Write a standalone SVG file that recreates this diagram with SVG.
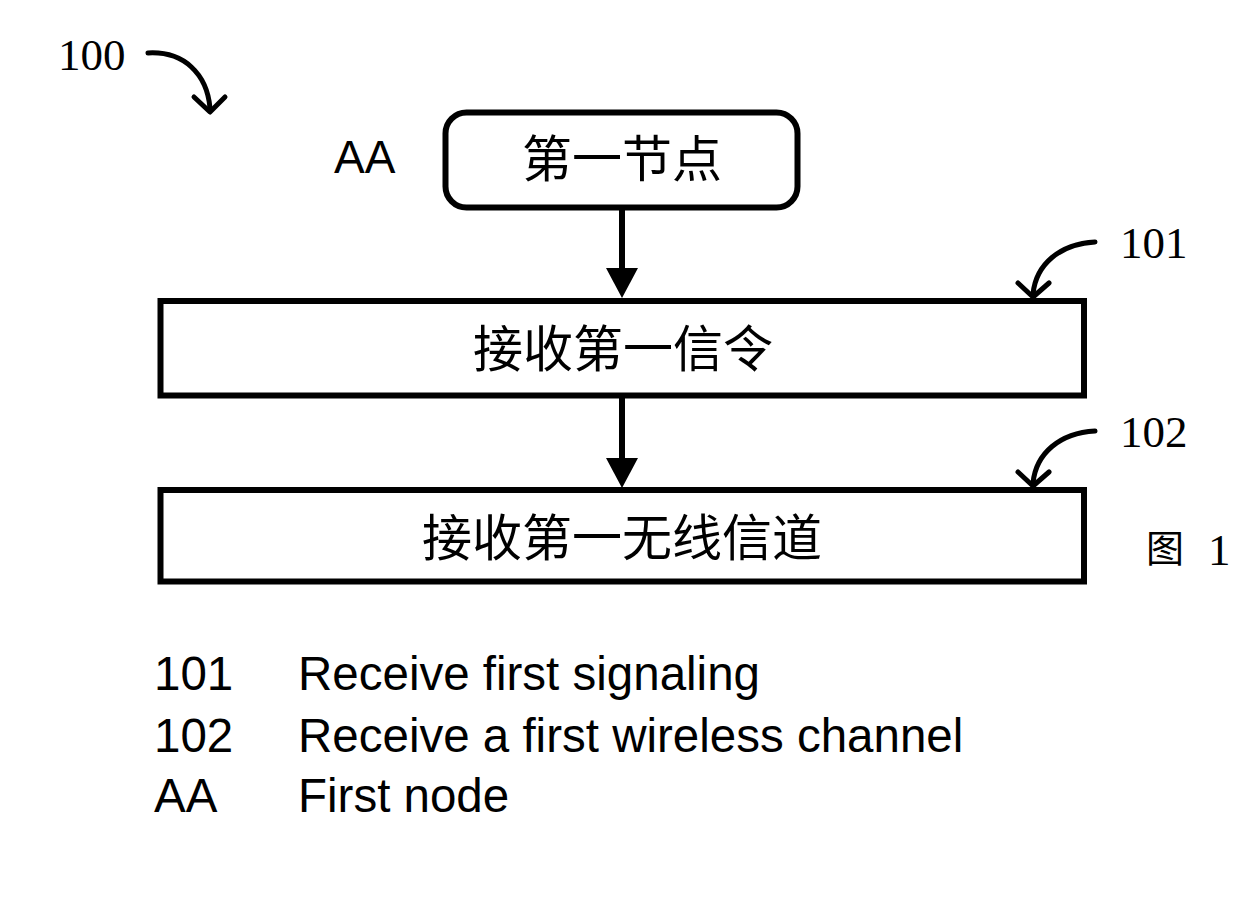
<svg xmlns="http://www.w3.org/2000/svg" width="1257" height="918" viewBox="0 0 1257 918">
<style>
.box{fill:#fff;stroke:#000;stroke-width:6}
.cjk{font-family:"Noto Sans CJK SC",sans-serif;font-size:50px;fill:#000;text-anchor:middle}
.ref{font-family:"Liberation Serif",serif;font-size:45px;fill:#000}
.sans{font-family:"Liberation Sans",Arial,sans-serif;fill:#000}
.leg{font-size:47.5px}
.wire{fill:none;stroke:#000;stroke-width:6}
.call{fill:none;stroke:#000;stroke-width:5;stroke-linecap:round;stroke-linejoin:round}
</style>
<rect width="1257" height="918" fill="#fff"/>
<g id="label-100">
<text class="ref" x="58" y="70" font-size="47">100</text>
<path class="call" d="M148,53 C184,51 207,74 210,108"/>
<path class="call" d="M194,97 L210,112 L225,97"/>
</g>
<g id="node-AA">
<text class="sans" x="334" y="173" font-size="46">AA</text>
<rect class="box" x="445.5" y="112.5" width="352" height="95" rx="21" stroke-width="5"/>
<text class="cjk" x="622" y="177">第一节点</text>
</g>
<g id="node-101">
<rect class="box" x="160.5" y="301" width="923.5" height="94.5"/>
<text class="cjk" x="623" y="367">接收第一信令</text>
<text class="ref" x="1120" y="258">101</text>
<path class="call" d="M1095,242 C1060,244 1036,264 1033,294"/>
<path class="call" d="M1018,283 L1033,297 L1049,283"/>
</g>
<g id="node-102">
<rect class="box" x="160.5" y="490" width="923.5" height="91.5"/>
<text class="cjk" x="622" y="556">接收第一无线信道</text>
<text class="ref" x="1120" y="447">102</text>
<path class="call" d="M1095,431 C1060,433 1036,453 1033,483"/>
<path class="call" d="M1018,472 L1033,486 L1049,472"/>
</g>
<g id="figure-label">
<text x="1146" y="562" font-family="Noto Sans CJK SC,sans-serif" font-size="38">图</text>
<text class="ref" x="1208" y="565" font-size="44">1</text>
</g>
<g id="connectors">
<line class="wire" x1="622" y1="210" x2="622" y2="270"/>
<polygon points="606,268 638,268 622,298" fill="#000"/>
<line class="wire" x1="622" y1="398" x2="622" y2="460"/>
<polygon points="606,458 638,458 622,488" fill="#000"/>
</g>
<g id="legend" class="sans leg">
<text x="154" y="690">101</text>
<text x="298" y="690">Receive first signaling</text>
<text x="154" y="752">102</text>
<text x="298" y="752">Receive a first wireless channel</text>
<text x="154" y="812">AA</text>
<text x="298" y="812">First node</text>
</g>
</svg>
